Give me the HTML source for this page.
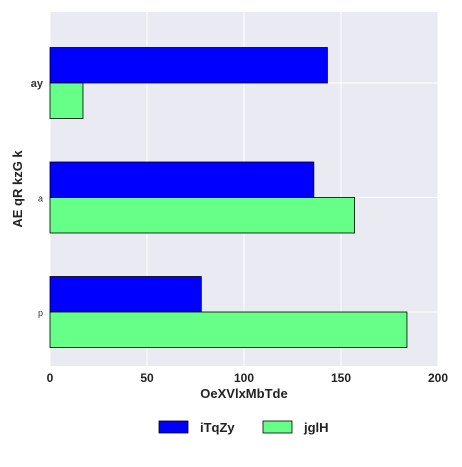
<!DOCTYPE html>
<html><head><meta charset="utf-8"><style>
body{margin:0;background:#fff;}
svg text{font-family:"Liberation Sans",sans-serif;}
</style></head><body>
<svg id="chart" width="462" height="462">
<rect x="50" y="12" width="388" height="354" fill="#eaeaf2"/>
<g id="grid"></g><g id="bars"></g><g id="ticks"></g>
<text x="244" y="398" text-anchor="middle" font-size="13" font-weight="bold" fill="#222">OeXVlxMbTde</text>
<text transform="translate(22,189) rotate(-90)" text-anchor="middle" font-size="13" font-weight="bold" fill="#222">AE qR kzG k</text>
<g>
<rect x="159" y="421" width="29" height="12" fill="#0000ff" stroke="#000" stroke-width="0.8"/>
<text x="200" y="432" font-size="13" font-weight="bold" fill="#222">iTqZy</text>
<rect x="263" y="421" width="29" height="12" fill="#66ff88" stroke="#000" stroke-width="0.8"/>
<text x="304" y="432" font-size="13" font-weight="bold" fill="#222">jglH</text>
</g>
</svg>
<script>
const categories=["ay","a","p"];
const seriesA=[143,136,78];
const seriesB=[17,157,184];
const xTicks=[0,50,100,150,200];
const NS="http://www.w3.org/2000/svg";
const x0=50,x1=438,y0=12,y1=366;
const xs=v=>x0+(v-0)/(200-0)*(x1-x0);
const band=114.5;
const yc=i=>83+band*i;
const bh=35.5;
function mk(tag,attrs,parent){const e=document.createElementNS(NS,tag);for(const k in attrs)e.setAttribute(k,attrs[k]);document.getElementById(parent).appendChild(e);return e;}
xTicks.forEach(t=>{
 const l=mk('line',{x1:xs(t),x2:xs(t),y1:y0,y2:y1,stroke:'#fff','stroke-width':1},'grid');
 
 
 const tx=mk('text',{x:xs(t),y:382,'text-anchor':'middle','font-size':12,'font-weight':'bold',fill:'#222'},'ticks');
 tx.textContent=t;
 
 
});
categories.forEach((c,i)=>{
 const l=mk('line',{x1:x0,x2:x1,y1:yc(i),y2:yc(i),stroke:'#fff','stroke-width':1},'grid');
 
 
 const a=mk('rect',{x:x0,y:yc(i)-bh,width:xs(seriesA[i])-x0,height:bh,fill:'#0000ff',stroke:'#000','stroke-width':0.8},'bars');
 
 
 const b=mk('rect',{x:x0,y:yc(i),width:xs(seriesB[i])-x0,height:bh,fill:'#66ff88',stroke:'#000','stroke-width':0.8},'bars');
 
 
 const tx=mk('text',{x:43,y:yc(i)+4,'text-anchor':'end','font-size':i==0?11:9,'font-weight':i==0?'bold':'normal',fill:'#333'},'ticks');
 tx.textContent=c;
 
 
});
</script>
</body></html>
